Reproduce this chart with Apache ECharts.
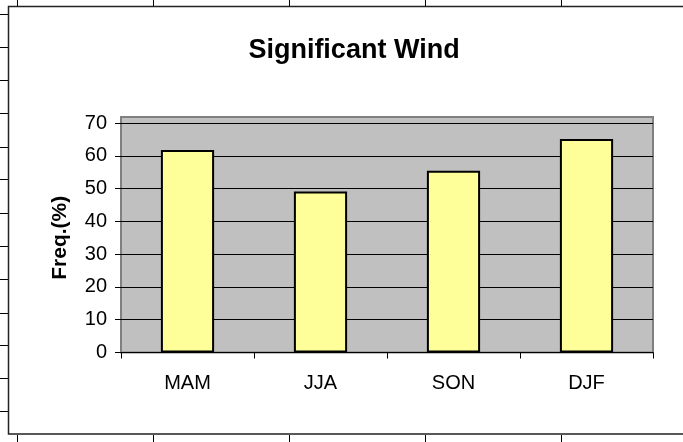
<!DOCTYPE html>
<html>
<head>
<meta charset="utf-8">
<style>
  html, body { margin: 0; padding: 0; background: #ffffff; }
  #chart { width: 683px; height: 442px; }
</style>
<script src="https://cdn.jsdelivr.net/npm/echarts@6/dist/echarts.min.js"></script>
</head>
<body>
<div id="chart"></div>
<script>
const chartTitle = 'Significant Wind';
const yAxisName = 'Freq.(%)';
const categories = ['MAM', 'JJA', 'SON', 'DJF'];
const freqValues = [61.8, 49.1, 55.4, 65.1];
const yMin = 0;
const yMax = 70;
const yInterval = 10;

const FONT = "'Liberation Sans', Arial, sans-serif";

// spreadsheet cell lines visible around the embedded chart (decoration)
const colLinesX = [17, 153, 289, 425, 561];
const rowLinesY = [14, 47, 80, 113, 147, 179, 213, 246, 279, 313, 345, 378, 411];

const deco = [];
colLinesX.forEach(x => {
  deco.push({ type: 'line', shape: { x1: x + 0.5, y1: 0, x2: x + 0.5, y2: 6 }, style: { stroke: '#000', lineWidth: 1 }, silent: true });
  deco.push({ type: 'line', shape: { x1: x + 0.5, y1: 435, x2: x + 0.5, y2: 442 }, style: { stroke: '#000', lineWidth: 1 }, silent: true });
});
rowLinesY.forEach(y => {
  deco.push({ type: 'line', shape: { x1: 0, y1: y + 0.5, x2: 8, y2: y + 0.5 }, style: { stroke: '#000', lineWidth: 1 }, silent: true });
});
// chart area border
deco.push({ type: 'rect', shape: { x: 8.5, y: 6.5, width: 700, height: 427.5 }, style: { fill: 'none', stroke: '#222', lineWidth: 1.5 }, silent: true, z: -20 });
// plot area background + border
deco.push({ type: 'rect', shape: { x: 121, y: 117, width: 532, height: 235.5 }, style: { fill: '#C0C0C0', stroke: '#808080', lineWidth: 2 }, silent: true, z: -10 });

const chart = echarts.init(document.getElementById('chart'), null, { renderer: 'canvas' });
chart.setOption({
  animation: false,
  backgroundColor: '#ffffff',
  textStyle: { fontFamily: FONT },
  graphic: { elements: deco },
  title: {
    text: chartTitle,
    left: 349,
    top: 32,
    textAlign: 'center',
    textStyle: { fontFamily: FONT, fontSize: 27, fontWeight: 'bold', color: '#000' }
  },
  grid: {
    left: 121,
    right: 30,
    top: 123,
    bottom: 89.5,
    show: false
  },
  xAxis: {
    type: 'category',
    data: categories,
    axisLine: { show: true, lineStyle: { color: '#000', width: 1 } },
    axisTick: { show: true, alignWithLabel: false, length: 6, lineStyle: { color: '#000' } },
    axisLabel: { color: '#000', fontSize: 20, fontFamily: FONT, margin: 21 },
    splitLine: { show: false }
  },
  yAxis: {
    type: 'value',
    min: yMin,
    max: yMax,
    interval: yInterval,
    name: yAxisName,
    nameLocation: 'middle',
    nameRotate: 90,
    nameGap: 50,
    nameTextStyle: { fontFamily: FONT, fontSize: 21, fontWeight: 'bold', color: '#000' },
    axisLine: { show: false },
    axisTick: { show: true, length: 6, lineStyle: { color: '#000' } },
    axisLabel: { color: '#000', fontSize: 20, fontFamily: FONT, margin: 14 },
    splitLine: { show: true, lineStyle: { color: '#000', width: 1 } }
  },
  series: [{
    type: 'bar',
    data: freqValues,
    barWidth: '40%',
    itemStyle: { color: '#FFFF99', borderColor: '#000', borderWidth: 2 }
  }]
});
</script>
</body>
</html>
